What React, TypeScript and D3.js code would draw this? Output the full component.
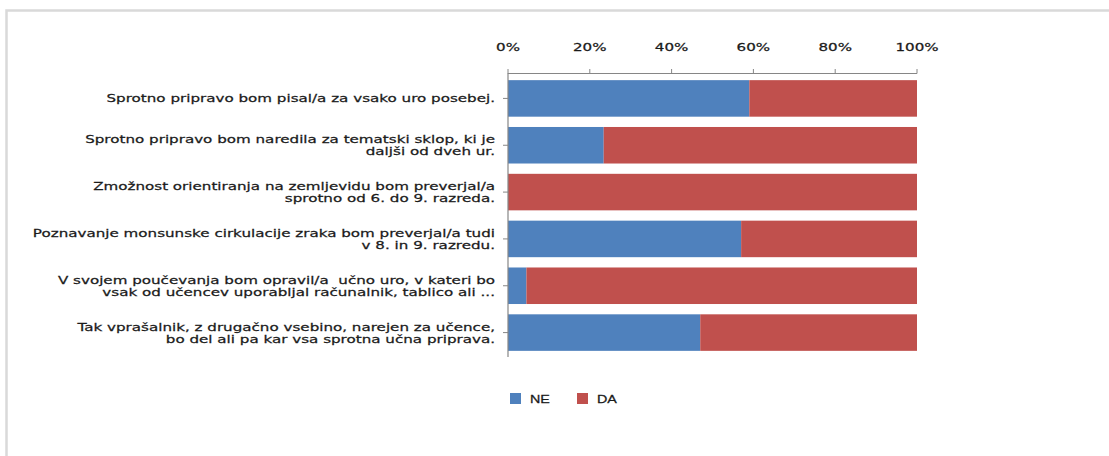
import React from "react";
import * as d3 from "d3";

const categories = [
  "Sprotno pripravo bom pisal/a za vsako uro posebej.",
  "Sprotno pripravo bom naredila za tematski sklop, ki je\ndaljši od dveh ur.",
  "Zmožnost orientiranja na zemljevidu bom preverjal/a\nsprotno od 6. do 9. razreda.",
  "Poznavanje monsunske cirkulacije zraka bom preverjal/a tudi\nv 8. in 9. razredu.",
  "V svojem poučevanja bom opravil/a  učno uro, v kateri bo\nvsak od učencev uporabljal računalnik, tablico ali ...",
  "Tak vprašalnik, z drugačno vsebino, narejen za učence,\nbo del ali pa kar vsa sprotna učna priprava.",
];
const seriesNames = ["NE", "DA"];
const neValues = [0.59, 0.234, 0, 0.57, 0.045, 0.47];
const daValues = [0.41, 0.766, 1, 0.43, 0.955, 0.53];
const xTicks = [0, 0.2, 0.4, 0.6, 0.8, 1];
const colors = ["#4f81bd", "#c0504d"];

const W = 1109;
const H = 456;
const SX = 1.375;
const FONT = "'DejaVu Sans', Verdana, sans-serif";
const TEXT_COLOR = "#1a1a1a";

export default function App() {
  const rows = categories.map((c, i) => ({ cat: c, NE: neValues[i], DA: daValues[i] }));
  const stack = d3.stack<any>().keys(seriesNames)(rows);
  const x = d3.scaleLinear().domain([0, 1]).range([508, 917]);
  const y = d3.scaleBand<string>().domain(categories).range([75, 356]).paddingInner(0.22).paddingOuter(0.11);
  const fmt = d3.format(".0%");
  const axisColor = "#868686";
  const textStyle = { whiteSpace: "pre" as const, stroke: TEXT_COLOR, strokeWidth: 0.25 };

  return (
    <svg width={W} height={H} style={{ position: "absolute", left: 0, top: 0, background: "#fff" }}>
      <path d={`M6.5,${H} V10.5 H${W}`} fill="none" stroke="#d9d9d9" strokeWidth={2.5} />

      {stack.map((s, si) => (
        <g key={s.key} fill={colors[si]}>
          {s.map((d, i) => (
            <rect
              key={i}
              x={x(d[0])}
              y={y(categories[i])}
              width={Math.max(0, x(d[1]) - x(d[0]))}
              height={y.bandwidth()}
            />
          ))}
        </g>
      ))}

      {/* top value axis */}
      <line x1={x(0)} x2={x(1)} y1={73.5} y2={73.5} stroke={axisColor} strokeWidth={1.2} />
      {xTicks.map((t) => (
        <g key={t}>
          <line x1={x(t)} x2={x(t)} y1={69} y2={73.5} stroke={axisColor} />
          <g transform={`translate(${x(t)},51) scale(${SX},1)`}>
            <text textAnchor="middle" fontFamily={FONT} fontSize={11} fill={TEXT_COLOR} style={textStyle}>
              {fmt(t)}
            </text>
          </g>
        </g>
      ))}

      {/* category axis */}
      <line x1={x(0)} x2={x(0)} y1={73} y2={357} stroke={axisColor} strokeWidth={1.2} />
      {categories.map((c) => {
        const cy = (y(c) as number) + y.bandwidth() / 2;
        const lines = c.split("\n");
        const off = -((lines.length - 1) * 12) / 2;
        return (
          <g key={c}>
            <line x1={x(0) - 5} x2={x(0)} y1={cy} y2={cy} stroke={axisColor} />
            <g transform={`translate(495,${cy}) scale(${SX},1)`}>
              {lines.map((ln, li) => (
                <text
                  key={li}
                  x={0}
                  y={off + li * 12 + 4}
                  textAnchor="end"
                  fontFamily={FONT}
                  fontSize={11}
                  fill={TEXT_COLOR}
                  style={textStyle}
                >
                  {ln}
                </text>
              ))}
            </g>
          </g>
        );
      })}

      {/* legend */}
      {seriesNames.map((n, i) => {
        const lx = 510 + i * 67;
        return (
          <g key={n}>
            <rect x={lx} y={393} width={11} height={11} fill={colors[i]} />
            <g transform={`translate(${lx + 20},403) scale(1.3,1)`}>
              <text fontFamily="'Liberation Sans', Arial, sans-serif" fontSize={11} fill={TEXT_COLOR} style={textStyle}>
                {n}
              </text>
            </g>
          </g>
        );
      })}
    </svg>
  );
}
